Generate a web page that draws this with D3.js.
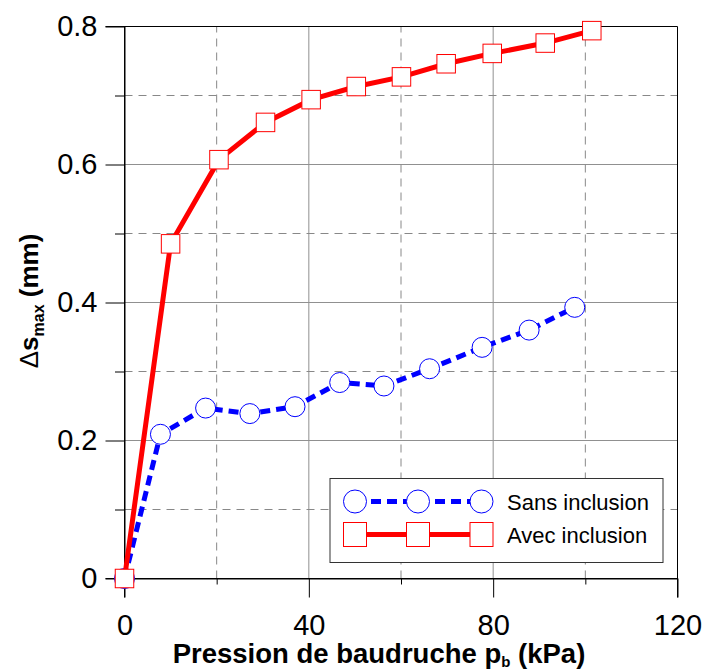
<!DOCTYPE html>
<html>
<head>
<meta charset="utf-8">
<script src="https://cdn.jsdelivr.net/npm/d3@7"></script>
<style>
  html, body { margin: 0; padding: 0; background: #fff; }
  svg { display: block; font-family: "Liberation Sans", Arial, sans-serif; }
</style>
</head>
<body>
<svg id="chart" width="704" height="670"></svg>
<script>
// ---- data ----
const sansX = [0, 7.8, 17.6, 27.2, 37.0, 46.7, 56.3, 66.2, 77.6, 87.8, 97.7];
const sansY = [0, 0.209, 0.247, 0.239, 0.249, 0.284, 0.279, 0.304, 0.335, 0.360, 0.393];
const avecX = [0, 10.0, 20.5, 30.6, 40.5, 50.3, 60.1, 69.8, 79.8, 91.3, 101.4];
const avecY = [0, 0.485, 0.607, 0.661, 0.694, 0.713, 0.727, 0.746, 0.761, 0.776, 0.794];
const xMajorTicks = [0, 40, 80, 120];
const xMinorTicks = [20, 60, 100];
const yMajorTicks = [0, 0.2, 0.4, 0.6, 0.8];
const yMinorTicks = [0.1, 0.3, 0.5, 0.7];
const seriesNames = ["Sans inclusion", "Avec inclusion"];

// ---- layout ----
const L = 124.5, R = 677.5, T = 26.5, B = 578.5;
const svg = d3.select("#chart");
const x = d3.scaleLinear().domain([0, 120]).range([L, R]);
const y = d3.scaleLinear().domain([0, 0.8]).range([B, T]);

const grid = svg.append("g");
// major grid (solid)
grid.selectAll(".gxM").data(xMajorTicks.filter(d => d > 0 && d < 120)).enter().append("line")
  .attr("x1", d => x(d)).attr("x2", d => x(d)).attr("y1", T).attr("y2", B)
  .attr("stroke", "#909090").attr("stroke-width", 1);
grid.selectAll(".gyM").data(yMajorTicks.filter(d => d > 0 && d < 0.8)).enter().append("line")
  .attr("x1", L).attr("x2", R).attr("y1", d => y(d)).attr("y2", d => y(d))
  .attr("stroke", "#909090").attr("stroke-width", 1);
// minor grid (dashed)
grid.selectAll(".gxm").data(xMinorTicks).enter().append("line")
  .attr("x1", d => x(d)).attr("x2", d => x(d)).attr("y1", B).attr("y2", T)
  .attr("stroke", "#888").attr("stroke-width", 1).attr("stroke-dasharray", "8,6");
grid.selectAll(".gym").data(yMinorTicks).enter().append("line")
  .attr("x1", L).attr("x2", R).attr("y1", d => y(d)).attr("y2", d => y(d))
  .attr("stroke", "#888").attr("stroke-width", 1).attr("stroke-dasharray", "8,6");

// axes
const xAxis = svg.append("g").attr("transform", `translate(0,${B})`)
  .call(d3.axisBottom(x).tickValues(xMajorTicks).tickSize(19).tickSizeOuter(0).tickFormat(d3.format("d")));
xAxis.select(".domain").attr("stroke", "#000");
xAxis.selectAll(".tick line").attr("stroke", "#000");
xAxis.selectAll(".tick text").attr("font-size", 29).attr("fill", "#000").attr("dy", null).attr("y", 56);
svg.append("g").attr("transform", `translate(0,${B})`)
  .call(d3.axisBottom(x).tickValues(xMinorTicks).tickSize(6).tickSizeOuter(0).tickFormat(""))
  .call(g => g.select(".domain").remove())
  .selectAll(".tick line").attr("stroke", "#000");

const yAxis = svg.append("g").attr("transform", `translate(${L},0)`)
  .call(d3.axisLeft(y).tickValues(yMajorTicks).tickSize(19).tickSizeOuter(0)
    .tickFormat(d => d === 0 ? "0" : d3.format(".1f")(d)));
yAxis.select(".domain").attr("stroke", "#000");
yAxis.selectAll(".tick line").attr("stroke", "#000");
yAxis.selectAll(".tick text").attr("font-size", 29).attr("fill", "#000").attr("x", -27);
svg.append("g").attr("transform", `translate(${L},0)`)
  .call(d3.axisLeft(y).tickValues(yMinorTicks).tickSize(9.5).tickSizeOuter(0).tickFormat(""))
  .call(g => g.select(".domain").remove())
  .selectAll(".tick line").attr("stroke", "#000");

// extend axis lines to tick ends, and box top/right
svg.append("line").attr("x1", L).attr("x2", L).attr("y1", T).attr("y2", B + 19).attr("stroke", "#000");
svg.append("line").attr("x1", L - 19).attr("x2", R).attr("y1", B).attr("y2", B).attr("stroke", "#000");
svg.append("line").attr("x1", L - 19).attr("x2", R).attr("y1", T).attr("y2", T).attr("stroke", "#000");
svg.append("line").attr("x1", R).attr("x2", R).attr("y1", T).attr("y2", B + 19).attr("stroke", "#000");

// series
const sans = sansX.map((d, i) => [d, sansY[i]]);
const avec = avecX.map((d, i) => [d, avecY[i]]);
const line = d3.line().x(d => x(d[0])).y(d => y(d[1]));

svg.append("path").datum(sans).attr("d", line).attr("fill", "none")
  .attr("stroke", "#0000ff").attr("stroke-width", 5).attr("stroke-dasharray", "10,6");
svg.selectAll(".cs").data(sans).enter().append("circle")
  .attr("cx", d => x(d[0])).attr("cy", d => y(d[1])).attr("r", 10)
  .attr("fill", "#fff").attr("stroke", "#0000ff").attr("stroke-width", 1);

svg.append("path").datum(avec).attr("d", line).attr("fill", "none")
  .attr("stroke", "#ff0000").attr("stroke-width", 5);
const sq = 18.5;
svg.selectAll(".sa").data(avec).enter().append("rect")
  .attr("x", d => x(d[0]) - sq / 2).attr("y", d => y(d[1]) - sq / 2)
  .attr("width", sq).attr("height", sq)
  .attr("fill", "#fff").attr("stroke", "#ff0000").attr("stroke-width", 1);

// legend
const lg = svg.append("g");
lg.append("rect").attr("x", 330).attr("y", 478.5).attr("width", 333).attr("height", 84)
  .attr("fill", "#fff").attr("stroke", "#333").attr("stroke-width", 1);
const lx = [355, 418, 481.5];
const rows = [501.5, 534.5];
lg.append("line").attr("x1", lx[0]).attr("x2", lx[2]).attr("y1", rows[0]).attr("y2", rows[0])
  .attr("stroke", "#0000ff").attr("stroke-width", 5).attr("stroke-dasharray", "10,6");
lg.selectAll(".lc").data(lx).enter().append("circle")
  .attr("cx", d => d).attr("cy", rows[0]).attr("r", 11.5)
  .attr("fill", "#fff").attr("stroke", "#0000ff").attr("stroke-width", 1);
lg.append("line").attr("x1", lx[0]).attr("x2", lx[2]).attr("y1", rows[1]).attr("y2", rows[1])
  .attr("stroke", "#ff0000").attr("stroke-width", 5);
lg.selectAll(".ls").data(lx).enter().append("rect")
  .attr("x", d => d - 11.5).attr("y", rows[1] - 12).attr("width", 23).attr("height", 24)
  .attr("fill", "#fff").attr("stroke", "#ff0000").attr("stroke-width", 1);
lg.selectAll(".lt").data(seriesNames).enter().append("text")
  .attr("x", 507).attr("y", (d, i) => rows[i] + 8)
  .attr("font-size", 22).attr("fill", "#000").text(d => d);

// axis titles
const xt = svg.append("text").attr("x", 379).attr("y", 663)
  .attr("text-anchor", "middle").attr("font-size", 27.5).attr("font-weight", "bold").attr("fill", "#000");
xt.append("tspan").text("Pression de baudruche p");
xt.append("tspan").attr("font-size", 15).attr("dy", 4).text("b");
xt.append("tspan").attr("dy", -4).text(" (kPa)");

const yt = svg.append("text").attr("transform", `translate(38,301) rotate(-90)`)
  .attr("text-anchor", "middle").attr("font-size", 26).attr("font-weight", "bold").attr("fill", "#000");
yt.append("tspan").attr("font-weight", "normal").text("Δ");
yt.append("tspan").text("s");
yt.append("tspan").attr("font-size", 16).attr("dy", 6).text("max");
yt.append("tspan").attr("dy", -6).text(" (mm)");
</script>
</body>
</html>
